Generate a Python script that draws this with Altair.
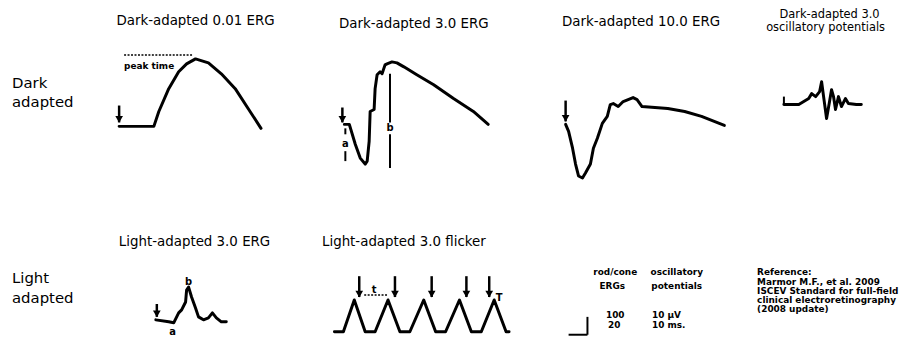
import altair as alt
import pandas as pd

# ---------------- waveform data (picture coordinates) -------------
da001_x = [120, 155, 160, 170, 180, 188, 197, 210, 223, 237, 250, 263]
da001_y = [125, 125, 110, 87, 70, 62, 57, 61, 72, 87, 107, 127]

da30_x = [347, 352, 358, 363, 368, 370, 372, 373, 377, 378, 380, 383, 385, 388, 390, 395, 400, 407, 420, 437, 457, 477, 492]
da30_y = [123, 123, 143, 157, 163, 160, 140, 110, 108, 87, 73, 70, 72, 63, 62, 60, 61, 65, 73, 83, 97, 110, 123]

da10_x = [570, 573, 577, 580, 583, 587, 590, 595, 598, 602, 607, 612, 615, 618, 623, 628, 638, 642, 647, 660, 673, 690, 707, 730]
da10_y = [123, 130, 147, 163, 175, 177, 172, 163, 147, 137, 122, 115, 103, 102, 105, 100, 96, 98, 105, 106, 107, 110, 115, 124]

op_x = [790, 805, 810, 815, 818, 822, 826, 828, 830, 833, 836, 838, 840, 842, 845, 848, 852, 855, 863, 868]
op_y = [103, 103, 100, 97, 92, 95, 90, 80, 95, 117, 100, 88, 95, 108, 95, 105, 97, 102, 103, 103]

la30_x = [157, 170, 175, 178, 180, 183, 187, 188, 190, 193, 197, 200, 205, 210, 214, 218, 223, 228]
la30_y = [320, 322, 323, 317, 313, 310, 302, 290, 287, 297, 308, 317, 320, 318, 313, 318, 322, 322]

flk_x = [337, 346, 357, 368, 378, 391, 403, 413, 427, 439, 449, 463, 475, 485, 498, 510, 513]
flk_y = [332, 332, 300, 332, 332, 300, 332, 332, 300, 332, 332, 300, 332, 332, 300, 332, 332]

# stimulus arrows: x, stem top, tip
arrow_x = [120, 345, 570, 158, 362, 398, 435, 470, 493]
arrow_top = [104, 106, 99, 304, 276, 276, 276, 276, 276]
arrow_tip = [121, 121, 120, 317, 297, 297, 297, 297, 297]

# solid segments: x, y, x2, y2
seg_x = [393, 393, 348, 348, 790, 592, 573]
seg_y = [72, 133, 127, 150, 95, 317, 335]
seg_x2 = [393, 393, 348, 348, 790, 592, 592]
seg_y2 = [121, 167, 133, 160, 103, 335, 335]

# dotted segments
dot_x = [125, 367]
dot_y = [53, 295]
dot_x2 = [195, 391]
dot_y2 = [53, 295]

# texts
title_txt = ["Dark-adapted 0.01 ERG", "Dark-adapted 3.0 ERG", "Dark-adapted 10.0 ERG",
             "Light-adapted 3.0 ERG", "Light-adapted 3.0 flicker"]
title_x = [197, 417, 646, 196, 407]
title_y = [19, 22, 20, 242, 242]

op_title_txt = ["Dark-adapted 3.0", "oscillatory potentials"]
op_title_x = [836, 832]
op_title_y = [13, 26]

row_txt = ["Dark", "adapted", "Light", "adapted"]
row_x = [12, 12, 12, 12]
row_y = [81, 100, 278, 298]

ann_txt = ["b", "a", "b", "a", "t", "T"]
ann_x = [393, 348, 190, 174, 377, 503]
ann_y = [127, 143, 282, 332, 290, 298]

small_txt = ["peak time", "rod/cone", "ERGs", "oscillatory", "potentials",
             "100", "20", "10 \u00b5V", "10 ms.",
             "Reference:", "Marmor M.F., et al. 2009", "ISCEV Standard for full-field",
             "clinical electroretinography", "(2008 update)"]
small_x = [125, 620, 617, 682, 682, 620, 619, 657, 657, 763, 763, 763, 763, 763]
small_y = [64, 272, 286, 272, 286, 315, 325, 315, 325, 272, 282, 291, 300, 309]
small_align = ["left", "center", "center", "center", "center", "center", "center", "left", "left",
               "left", "left", "left", "left", "left"]

# ---------------- build tables ----------------
rows = []
for name, xs, ys in [("da001", da001_x, da001_y), ("da30", da30_x, da30_y), ("da10", da10_x, da10_y),
                     ("op", op_x, op_y), ("la30", la30_x, la30_y), ("flk", flk_x, flk_y)]:
    for i, (a, b) in enumerate(zip(xs, ys)):
        rows.append({"id": name, "o": i, "x": a, "y": b})
wave = pd.DataFrame(rows)

arrows = pd.DataFrame({"x": arrow_x, "y": arrow_top, "y2": arrow_tip,
                       "yh": [t - 3 for t in arrow_tip]})
segs = pd.DataFrame({"x": seg_x, "y": seg_y, "x2": seg_x2, "y2": seg_y2})
dots = pd.DataFrame({"x": dot_x, "y": dot_y, "x2": dot_x2, "y2": dot_y2})
titles = pd.DataFrame({"t": title_txt, "x": title_x, "y": title_y})
optitles = pd.DataFrame({"t": op_title_txt, "x": op_title_x, "y": op_title_y})
rowlab = pd.DataFrame({"t": row_txt, "x": row_x, "y": row_y})
anns = pd.DataFrame({"t": ann_txt, "x": ann_x, "y": ann_y})
smalls = pd.DataFrame({"t": small_txt, "x": small_x, "y": small_y, "al": small_align})

W, H = 891, 321
xs = alt.Scale(domain=[8, 8 + W], nice=False, zero=False)
ys = alt.Scale(domain=[8, 8 + H], nice=False, zero=False, reverse=True)
X = lambda f="x": alt.X(f"{f}:Q", scale=xs, axis=None)
Y = lambda f="y": alt.Y(f"{f}:Q", scale=ys, axis=None)

FONT = "DejaVu Sans"

lines = alt.Chart(wave).mark_line(color="black", strokeWidth=3, strokeJoin="round", strokeCap="round").encode(
    x=X(), y=Y(), detail="id:N", order="o:Q")
stems = alt.Chart(arrows).mark_rule(color="black", strokeWidth=2.5).encode(x=X(), y=Y(), y2="y2:Q")
heads = alt.Chart(arrows).mark_point(shape="triangle-down", filled=True, color="black", size=60, opacity=1).encode(
    x=X(), y=Y("yh"))
segl = alt.Chart(segs).mark_rule(color="black", strokeWidth=2).encode(x=X(), y=Y(), x2="x2:Q", y2="y2:Q")
dotl = alt.Chart(dots).mark_rule(color="black", strokeWidth=1.5, strokeDash=[2, 1.5]).encode(
    x=X(), y=Y(), x2="x2:Q", y2="y2:Q")
ttl = alt.Chart(titles).mark_text(font=FONT, fontSize=13.5, align="center", baseline="middle", color="black").encode(
    x=X(), y=Y(), text="t:N")
opttl = alt.Chart(optitles).mark_text(font=FONT, fontSize=11.5, align="center", baseline="middle", color="black").encode(
    x=X(), y=Y(), text="t:N")
rl = alt.Chart(rowlab).mark_text(font=FONT, fontSize=15, align="left", baseline="middle", color="black").encode(
    x=X(), y=Y(), text="t:N")
an = alt.Chart(anns).mark_text(font=FONT, fontSize=10, fontWeight="bold", align="center", baseline="middle", color="black").encode(
    x=X(), y=Y(), text="t:N")
sm_left = alt.Chart(smalls[smalls.al == "left"]).mark_text(font=FONT, fontSize=9, fontWeight="bold", align="left", baseline="middle", color="black").encode(
    x=X(), y=Y(), text="t:N")
sm_center = alt.Chart(smalls[smalls.al == "center"]).mark_text(font=FONT, fontSize=9, fontWeight="bold", align="center", baseline="middle", color="black").encode(
    x=X(), y=Y(), text="t:N")

chart = alt.layer(lines, stems, heads, segl, dotl, ttl, opttl, rl, an, sm_left, sm_center).properties(
    width=W, height=H, padding=0, background="white"
).configure_view(stroke=None)

chart.save("out.html", embed_options={"renderer": "svg", "actions": False})
